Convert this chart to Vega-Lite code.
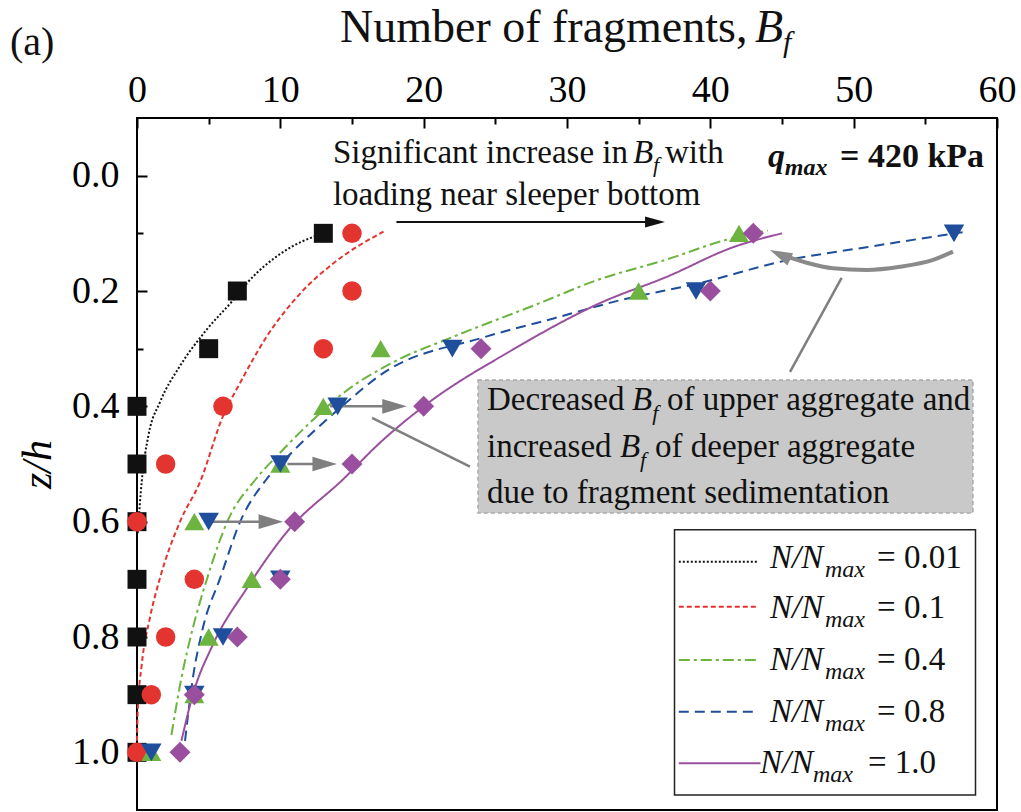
{
"$schema": "https://vega.github.io/schema/vega-lite/v6.json",
"width": 860, "height": 692,
"autosize": {"type": "none"},
"padding": {"left": 137, "top": 118, "right": 24, "bottom": 2},
"background": "white",
"config": {"view": {"stroke": "black", "strokeWidth": 2}, "font": "Times New Roman, Liberation Serif, DejaVu Serif, serif"},
"datasets": {
"pts": [
{"x":13,"y":0.1,"s":"0.01"},{"x":7,"y":0.2,"s":"0.01"},{"x":5,"y":0.3,"s":"0.01"},{"x":0,"y":0.4,"s":"0.01"},{"x":0,"y":0.5,"s":"0.01"},{"x":0,"y":0.6,"s":"0.01"},{"x":0,"y":0.7,"s":"0.01"},{"x":0,"y":0.8,"s":"0.01"},{"x":0,"y":0.9,"s":"0.01"},{"x":0,"y":1.0,"s":"0.01"},
{"x":15,"y":0.1,"s":"0.1"},{"x":15,"y":0.2,"s":"0.1"},{"x":13,"y":0.3,"s":"0.1"},{"x":6,"y":0.4,"s":"0.1"},{"x":2,"y":0.5,"s":"0.1"},{"x":0,"y":0.6,"s":"0.1"},{"x":4,"y":0.7,"s":"0.1"},{"x":2,"y":0.8,"s":"0.1"},{"x":1,"y":0.9,"s":"0.1"},{"x":0,"y":1.0,"s":"0.1"},
{"x":42,"y":0.1,"s":"0.4"},{"x":35,"y":0.2,"s":"0.4"},{"x":17,"y":0.3,"s":"0.4"},{"x":13,"y":0.4,"s":"0.4"},{"x":10,"y":0.5,"s":"0.4"},{"x":4,"y":0.6,"s":"0.4"},{"x":8,"y":0.7,"s":"0.4"},{"x":5,"y":0.8,"s":"0.4"},{"x":4,"y":0.9,"s":"0.4"},{"x":1,"y":1.0,"s":"0.4"},
{"x":57,"y":0.1,"s":"0.8"},{"x":39,"y":0.2,"s":"0.8"},{"x":22,"y":0.3,"s":"0.8"},{"x":14,"y":0.4,"s":"0.8"},{"x":10,"y":0.5,"s":"0.8"},{"x":5,"y":0.6,"s":"0.8"},{"x":10,"y":0.7,"s":"0.8"},{"x":6,"y":0.8,"s":"0.8"},{"x":4,"y":0.9,"s":"0.8"},{"x":1,"y":1.0,"s":"0.8"},
{"x":43,"y":0.1,"s":"1.0"},{"x":40,"y":0.2,"s":"1.0"},{"x":24,"y":0.3,"s":"1.0"},{"x":20,"y":0.4,"s":"1.0"},{"x":15,"y":0.5,"s":"1.0"},{"x":11,"y":0.6,"s":"1.0"},{"x":10,"y":0.7,"s":"1.0"},{"x":7,"y":0.8,"s":"1.0"},{"x":4,"y":0.9,"s":"1.0"},{"x":3,"y":1.0,"s":"1.0"}
],
"fit": [
{"x":13,"y":0.1,"s":"0.01"},{"x":10.4,"y":0.129,"s":"0.01"},{"x":7.65,"y":0.187,"s":"0.01"},{"x":6.7,"y":0.216,"s":"0.01"},{"x":4.86,"y":0.267,"s":"0.01"},{"x":3.0,"y":0.33,"s":"0.01"},{"x":1.6,"y":0.393,"s":"0.01"},{"x":0.8,"y":0.45,"s":"0.01"},{"x":0.33,"y":0.53,"s":"0.01"},{"x":0.05,"y":0.62,"s":"0.01"},
{"x":17.2,"y":0.097,"s":"0.1"},{"x":13.7,"y":0.152,"s":"0.1"},{"x":11.4,"y":0.204,"s":"0.1"},{"x":9.05,"y":0.279,"s":"0.1"},{"x":7.2,"y":0.359,"s":"0.1"},{"x":6.0,"y":0.417,"s":"0.1"},{"x":4.4,"y":0.531,"s":"0.1"},{"x":3.0,"y":0.6,"s":"0.1"},{"x":1.6,"y":0.698,"s":"0.1"},{"x":0.9,"y":0.767,"s":"0.1"},{"x":0.33,"y":0.848,"s":"0.1"},{"x":0.05,"y":0.928,"s":"0.1"},{"x":0,"y":0.98,"s":"0.1"},
{"x":44,"y":0.095,"s":"0.4"},{"x":41,"y":0.112,"s":"0.4"},{"x":37,"y":0.145,"s":"0.4"},{"x":32,"y":0.182,"s":"0.4"},{"x":28,"y":0.222,"s":"0.4"},{"x":22,"y":0.28,"s":"0.4"},{"x":18,"y":0.322,"s":"0.4"},{"x":14.5,"y":0.375,"s":"0.4"},{"x":12,"y":0.43,"s":"0.4"},{"x":10,"y":0.48,"s":"0.4"},{"x":8.3,"y":0.526,"s":"0.4"},{"x":6.3,"y":0.6,"s":"0.4"},{"x":4.9,"y":0.698,"s":"0.4"},{"x":3.9,"y":0.784,"s":"0.4"},{"x":3.1,"y":0.871,"s":"0.4"},{"x":2.4,"y":0.97,"s":"0.4"},
{"x":57.6,"y":0.098,"s":"0.8"},{"x":50.9,"y":0.124,"s":"0.8"},{"x":45.3,"y":0.147,"s":"0.8"},{"x":39.3,"y":0.186,"s":"0.8"},{"x":33.7,"y":0.216,"s":"0.8"},{"x":29,"y":0.248,"s":"0.8"},{"x":24.1,"y":0.281,"s":"0.8"},{"x":17.2,"y":0.342,"s":"0.8"},{"x":14.3,"y":0.4,"s":"0.8"},{"x":10.8,"y":0.48,"s":"0.8"},{"x":9.05,"y":0.526,"s":"0.8"},{"x":7.2,"y":0.6,"s":"0.8"},{"x":5.8,"y":0.698,"s":"0.8"},{"x":4.6,"y":0.784,"s":"0.8"},{"x":3.9,"y":0.871,"s":"0.8"},{"x":3.35,"y":0.98,"s":"0.8"},
{"x":45,"y":0.1,"s":"1.0"},{"x":41.6,"y":0.124,"s":"1.0"},{"x":37,"y":0.175,"s":"1.0"},{"x":32.3,"y":0.221,"s":"1.0"},{"x":26.2,"y":0.302,"s":"1.0"},{"x":20,"y":0.4,"s":"1.0"},{"x":17,"y":0.462,"s":"1.0"},{"x":14.4,"y":0.526,"s":"1.0"},{"x":10.45,"y":0.618,"s":"1.0"},{"x":7.65,"y":0.716,"s":"1.0"},{"x":5.3,"y":0.813,"s":"1.0"},{"x":3.9,"y":0.9,"s":"1.0"},{"x":3.1,"y":0.98,"s":"1.0"}
],
"leg": [
{"x":37.8,"x2":43.3,"y":0.6694,"s":"0.01"},
{"x":37.8,"x2":43.3,"y":0.7474,"s":"0.1"},
{"x":37.8,"x2":43.3,"y":0.8398,"s":"0.4"},
{"x":37.8,"x2":43.3,"y":0.9295,"s":"0.8"},
{"x":37.8,"x2":43.5,"y":1.019,"s":"1.0"}
],
"boxes": [
{"x":23.79,"x2":58.32,"y":0.3543,"y2":0.5849,"k":"gray"},
{"x":37.5,"x2":58.5,"y":0.614,"y2":1.074,"k":"legend"}
],
"rules": [
{"x":18.1,"y":0.0803,"x2":36.2,"y2":0.0803,"k":"black"},
{"x":13.47,"y":0.4,"x2":18.0,"y2":0.4,"k":"gray"},
{"x":10.5,"y":0.5,"x2":13.2,"y2":0.5,"k":"gray"},
{"x":5.3,"y":0.6,"x2":9.5,"y2":0.6,"k":"gray"},
{"x":16.4,"y":0.42,"x2":23.23,"y2":0.5047,"k":"gray"},
{"x":45.56,"y":0.3404,"x2":49.16,"y2":0.1774,"k":"gray"}
],
"heads": [
{"x":36.84,"y":0.0803,"k":"black"},
{"x":18.82,"y":0.4,"k":"gray"},
{"x":13.95,"y":0.5,"k":"gray"},
{"x":10.19,"y":0.6,"k":"gray"},
{"x":44.16,"y":0.1289,"k":"curve"}
],
"curve": [
{"x":56.93,"y":0.1318},{"x":55.54,"y":0.146},{"x":53.23,"y":0.158},{"x":50.91,"y":0.1635},{"x":48.56,"y":0.1606},{"x":46.72,"y":0.151},{"x":45.56,"y":0.1423},{"x":44.72,"y":0.1348}
],
"labels": [
{"x":14.16,"y":-0.2318,"t":"Number of fragments,","g":"title"},
{"x":43.12,"y":-0.2318,"t":"B","g":"ti"},
{"x":45.07,"y":-0.2144,"t":"f","g":"ts"},
{"x":-8.86,"y":-0.209,"t":"(a)","g":"a"},
{"x":13.67,"y":-0.022,"t":"Significant increase in","g":"n30"},
{"x":34.6,"y":-0.022,"t":"B","g":"i30"},
{"x":36.0,"y":-0.0064,"t":"f","g":"s20"},
{"x":36.84,"y":-0.022,"t":"with","g":"n30"},
{"x":13.67,"y":0.0509,"t":"loading near sleeper bottom","g":"n30"},
{"x":44.02,"y":-0.015,"t":"q","g":"qb"},
{"x":45.2,"y":-0.0012,"t":"max","g":"qs"},
{"x":49.05,"y":-0.015,"t":"= 420 kPa","g":"b32"},
{"x":24.42,"y":0.4063,"t":"Decreased","g":"n30"},
{"x":34.54,"y":0.4063,"t":"B","g":"i30"},
{"x":35.95,"y":0.4236,"t":"f","g":"s20"},
{"x":36.98,"y":0.4063,"t":"of upper aggregate and","g":"n30"},
{"x":24.42,"y":0.4878,"t":"increased","g":"n30"},
{"x":33.7,"y":0.4878,"t":"B","g":"i30"},
{"x":35.1,"y":0.5051,"t":"f","g":"s20"},
{"x":36.14,"y":0.4878,"t":"of deeper aggregate","g":"n30"},
{"x":24.42,"y":0.5676,"t":"due to fragment sedimentation","g":"n30"},
{"x":44.16,"y":0.68,"t":"N/N","g":"li"},{"x":48.0,"y":0.6956,"t":"max","g":"ls"},{"x":51.63,"y":0.68,"t":"= 0.01","g":"ln"},
{"x":44.16,"y":0.767,"t":"N/N","g":"li"},{"x":48.0,"y":0.7826,"t":"max","g":"ls"},{"x":51.63,"y":0.767,"t":"= 0.1","g":"ln"},
{"x":44.16,"y":0.857,"t":"N/N","g":"li"},{"x":48.0,"y":0.8726,"t":"max","g":"ls"},{"x":51.63,"y":0.857,"t":"= 0.4","g":"ln"},
{"x":44.16,"y":0.947,"t":"N/N","g":"li"},{"x":48.0,"y":0.9626,"t":"max","g":"ls"},{"x":51.63,"y":0.947,"t":"= 0.8","g":"ln"},
{"x":43.47,"y":1.036,"t":"N/N","g":"li"},{"x":47.16,"y":1.0516,"t":"max","g":"ls"},{"x":51.0,"y":1.036,"t":"= 1.0","g":"ln"}
]
},
"layer": [
{
"encoding": {
"x": {"field": "x", "type": "quantitative", "scale": {"domain": [0, 60], "nice": false, "zero": false},
"axis": {"orient": "top", "values": [0,10,20,30,40,50,60], "format": "d", "tickSize": -10, "tickWidth": 2, "tickColor": "black", "labelFontSize": 38, "labelFont": "Times New Roman, Liberation Serif, DejaVu Serif, serif", "labelColor": "black", "labelPadding": 19, "labelFlush": false, "labelOverlap": false, "labelBound": false, "domain": false, "grid": false, "title": null}},
"y": {"field": "y", "type": "quantitative", "scale": {"domain": [-0.1, 1.1], "reverse": true, "nice": false, "zero": false},
"axis": {"orient": "left", "values": [0,0.2,0.4,0.6,0.8,1.0], "format": ".1f", "tickSize": -10, "tickWidth": 2, "tickColor": "black", "labelFontSize": 38, "labelFont": "Times New Roman, Liberation Serif, DejaVu Serif, serif", "labelColor": "black", "labelPadding": 28, "labelFlush": false, "labelOverlap": false, "labelBound": false, "domain": false, "grid": false, "title": "z/h", "titleFont": "Times New Roman, Liberation Serif, DejaVu Serif, serif", "titleFontStyle": "italic", "titleFontWeight": "normal", "titleFontSize": 42, "titleColor": "black", "titlePadding": 12}}
},
"layer": [
{"data": {"name": "boxes"}, "transform": [{"filter": "datum.k==='gray'"}], "mark": {"type": "rect", "fill": "#c9c9c9", "stroke": "#a9a9a9", "strokeDash": [4,3], "strokeWidth": 1.5}, "encoding": {"x2": {"field": "x2"}, "y2": {"field": "y2"}}},
{"data": {"name": "fit"}, "mark": {"type": "line", "strokeWidth": 2, "interpolate": "monotone"},
"encoding": {
"color": {"field": "s", "type": "nominal", "scale": {"domain": ["0.01","0.1","0.4","0.8","1.0"], "range": ["#111111","#e3342f","#6db33f","#1f4e9c","#9a4f9e"]}, "legend": null},
"strokeDash": {"field": "s", "type": "nominal", "scale": {"domain": ["0.01","0.1","0.4","0.8","1.0"], "range": [[2,2],[5,3],[11,4,3,4],[10,6],[1,0]]}, "legend": null},
"detail": {"field": "s"}}},
{"data": {"name": "rules"}, "transform": [{"filter": "datum.k==='gray'"}], "mark": {"type": "rule", "color": "#7f7f7f", "strokeWidth": 2.5}, "encoding": {"x2": {"field": "x2"}, "y2": {"field": "y2"}}},
{"data": {"name": "rules"}, "transform": [{"filter": "datum.k==='black'"}], "mark": {"type": "rule", "color": "#111111", "strokeWidth": 2}, "encoding": {"x2": {"field": "x2"}, "y2": {"field": "y2"}}},
{"data": {"name": "curve"}, "mark": {"type": "line", "color": "#8a8a8a", "strokeWidth": 4, "interpolate": "monotone"}, "encoding": {}},
{"data": {"name": "heads"}, "transform": [{"filter": "datum.k==='black'"}], "mark": {"type": "point", "filled": true, "opacity": 1, "color": "#111111", "shape": "M0,0L-2,-0.55L-2,0.55Z", "size": 400}},
{"data": {"name": "heads"}, "transform": [{"filter": "datum.k==='curve'"}], "mark": {"type": "point", "filled": true, "opacity": 1, "color": "#8a8a8a", "shape": "M0,0L-2,-0.6L-2,0.6Z", "size": 500, "angle": 205}},
{"data": {"name": "pts"}, "mark": {"type": "point", "filled": true, "opacity": 1},
"encoding": {
"color": {"field": "s", "type": "nominal", "scale": {"domain": ["0.01","0.1","0.4","0.8","1.0"], "range": ["#111111","#e3342f","#6db33f","#1f4e9c","#9a4f9e"]}, "legend": null},
"shape": {"field": "s", "type": "nominal", "scale": {"domain": ["0.01","0.1","0.4","0.8","1.0"], "range": ["square","circle","triangle-up","triangle-down","diamond"]}, "legend": null},
"size": {"field": "s", "type": "nominal", "scale": {"domain": ["0.01","0.1","0.4","0.8","1.0"], "range": [360,440,620,620,720]}, "legend": null}}},
{"data": {"name": "heads"}, "transform": [{"filter": "datum.k==='gray'"}], "mark": {"type": "point", "filled": true, "opacity": 1, "color": "#7f7f7f", "shape": "M0,0L-2,-0.6L-2,0.6Z", "size": 600}},
{"data": {"name": "boxes"}, "transform": [{"filter": "datum.k==='legend'"}], "mark": {"type": "rect", "fill": "white", "stroke": "#222222", "strokeWidth": 1.5}, "encoding": {"x2": {"field": "x2"}, "y2": {"field": "y2"}}},
{"data": {"name": "leg"}, "mark": {"type": "rule", "strokeWidth": 2},
"encoding": {"x2": {"field": "x2"},
"color": {"field": "s", "type": "nominal", "scale": {"domain": ["0.01","0.1","0.4","0.8","1.0"], "range": ["#111111","#e3342f","#6db33f","#1f4e9c","#9a4f9e"]}, "legend": null},
"strokeDash": {"field": "s", "type": "nominal", "scale": {"domain": ["0.01","0.1","0.4","0.8","1.0"], "range": [[2,2],[5,3],[11,4,3,4],[10,6],[1,0]]}, "legend": null}}},
{"data": {"name": "labels"}, "transform": [{"filter": "datum.g==='title'"}], "mark": {"type": "text", "align": "left", "baseline": "alphabetic", "fontSize": 46, "color": "#111111"}, "encoding": {"text": {"field": "t"}}},
{"data": {"name": "labels"}, "transform": [{"filter": "datum.g==='ti'"}], "mark": {"type": "text", "align": "left", "baseline": "alphabetic", "fontSize": 46, "fontStyle": "italic", "color": "#111111"}, "encoding": {"text": {"field": "t"}}},
{"data": {"name": "labels"}, "transform": [{"filter": "datum.g==='ts'"}], "mark": {"type": "text", "align": "left", "baseline": "alphabetic", "fontSize": 30, "fontStyle": "italic", "color": "#111111"}, "encoding": {"text": {"field": "t"}}},
{"data": {"name": "labels"}, "transform": [{"filter": "datum.g==='a'"}], "mark": {"type": "text", "align": "left", "baseline": "alphabetic", "fontSize": 40, "color": "#111111"}, "encoding": {"text": {"field": "t"}}},
{"data": {"name": "labels"}, "transform": [{"filter": "datum.g==='n30'"}], "mark": {"type": "text", "align": "left", "baseline": "alphabetic", "fontSize": 33, "color": "#111111"}, "encoding": {"text": {"field": "t"}}},
{"data": {"name": "labels"}, "transform": [{"filter": "datum.g==='i30'"}], "mark": {"type": "text", "align": "left", "baseline": "alphabetic", "fontSize": 33, "fontStyle": "italic", "color": "#111111"}, "encoding": {"text": {"field": "t"}}},
{"data": {"name": "labels"}, "transform": [{"filter": "datum.g==='s20'"}], "mark": {"type": "text", "align": "left", "baseline": "alphabetic", "fontSize": 22, "fontStyle": "italic", "color": "#111111"}, "encoding": {"text": {"field": "t"}}},
{"data": {"name": "labels"}, "transform": [{"filter": "datum.g==='qb'"}], "mark": {"type": "text", "align": "left", "baseline": "alphabetic", "fontSize": 34, "fontStyle": "italic", "fontWeight": "bold", "color": "#111111"}, "encoding": {"text": {"field": "t"}}},
{"data": {"name": "labels"}, "transform": [{"filter": "datum.g==='qs'"}], "mark": {"type": "text", "align": "left", "baseline": "alphabetic", "fontSize": 24, "fontStyle": "italic", "fontWeight": "bold", "color": "#111111"}, "encoding": {"text": {"field": "t"}}},
{"data": {"name": "labels"}, "transform": [{"filter": "datum.g==='b32'"}], "mark": {"type": "text", "align": "left", "baseline": "alphabetic", "fontSize": 34, "fontWeight": "bold", "color": "#111111"}, "encoding": {"text": {"field": "t"}}},
{"data": {"name": "labels"}, "transform": [{"filter": "datum.g==='li'"}], "mark": {"type": "text", "align": "left", "baseline": "alphabetic", "fontSize": 33, "fontStyle": "italic", "color": "#111111"}, "encoding": {"text": {"field": "t"}}},
{"data": {"name": "labels"}, "transform": [{"filter": "datum.g==='ls'"}], "mark": {"type": "text", "align": "left", "baseline": "alphabetic", "fontSize": 24, "fontStyle": "italic", "color": "#111111"}, "encoding": {"text": {"field": "t"}}},
{"data": {"name": "labels"}, "transform": [{"filter": "datum.g==='ln'"}], "mark": {"type": "text", "align": "left", "baseline": "alphabetic", "fontSize": 33, "color": "#111111"}, "encoding": {"text": {"field": "t"}}}
]
},
{
"data": {"values": [{"x": 0, "y": 0}]},
"mark": {"type": "point", "opacity": 0},
"encoding": {
"x": {"field": "x", "type": "quantitative", "scale": {"domain": [0, 60], "nice": false, "zero": false},
"axis": {"orient": "top", "values": [5,15,25,35,45,55], "labels": false, "tickSize": -6, "tickWidth": 2, "tickColor": "black", "domain": false, "grid": false, "title": null}},
"y": {"field": "y", "type": "quantitative", "scale": {"domain": [-0.1, 1.1], "reverse": true, "nice": false, "zero": false},
"axis": {"orient": "left", "values": [0.1,0.3,0.5,0.7,0.9], "labels": false, "tickSize": -6, "tickWidth": 2, "tickColor": "black", "domain": false, "grid": false, "title": null}}
}
}
],
"resolve": {"axis": {"x": "independent", "y": "independent"}}
}
